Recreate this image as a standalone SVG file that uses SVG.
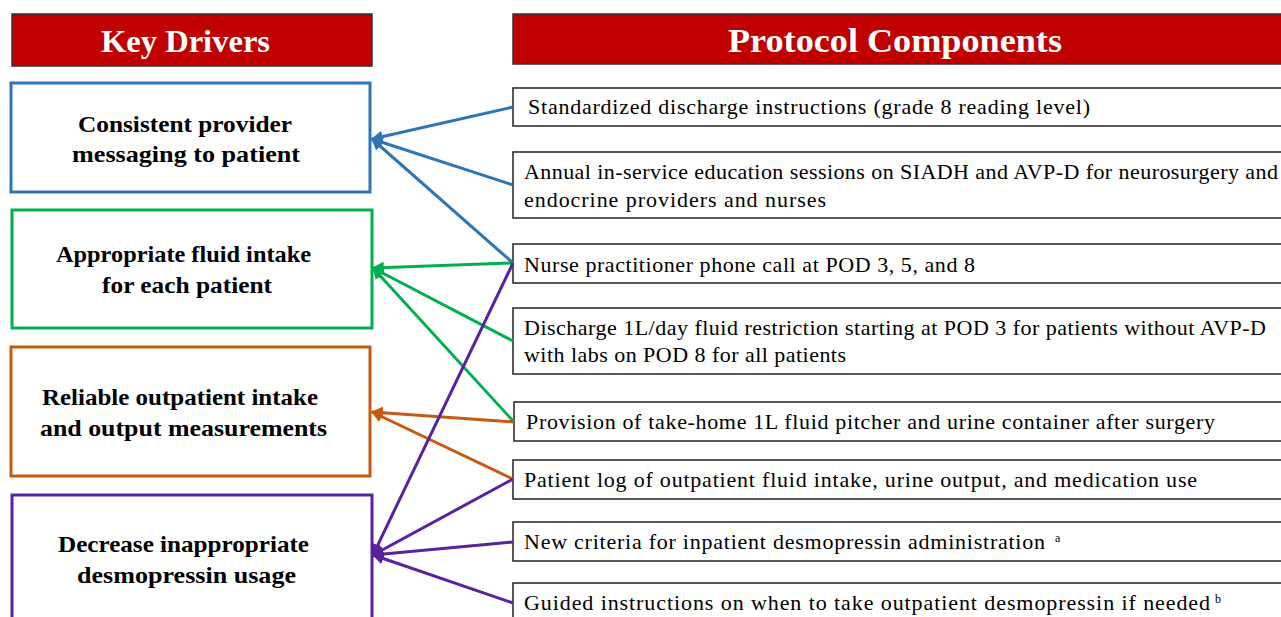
<svg xmlns="http://www.w3.org/2000/svg" width="1281" height="617" viewBox="0 0 1281 617">
<style>
.hdr{fill:#C00000;stroke:#333;stroke-width:1.5}
.htxt{font-family:"Liberation Serif",serif;font-weight:bold;fill:#fff}
.drv{fill:#fff;stroke-width:3}
.dtxt{font-family:"Liberation Serif",serif;font-weight:bold;font-size:24px;fill:#000}
.pc{fill:#fff;stroke:#222;stroke-width:1.5}
.ptxt{font-family:"Liberation Serif",serif;font-size:22px;fill:#000}
.sup{font-family:"Liberation Serif",serif;font-size:12px;fill:#000}
.c{fill:none;stroke-width:3}
</style>
<defs>
<marker id="mb" viewBox="0 0 10 10" refX="9" refY="5" markerWidth="12" markerHeight="12" markerUnits="userSpaceOnUse" orient="auto"><path d="M0,0 L10,5 L0,10 Z" fill="#2E75B6"/></marker>
<marker id="mg" viewBox="0 0 10 10" refX="9" refY="5" markerWidth="12" markerHeight="12" markerUnits="userSpaceOnUse" orient="auto"><path d="M0,0 L10,5 L0,10 Z" fill="#00B050"/></marker>
<marker id="mo" viewBox="0 0 10 10" refX="9" refY="5" markerWidth="12" markerHeight="12" markerUnits="userSpaceOnUse" orient="auto"><path d="M0,0 L10,5 L0,10 Z" fill="#C55A11"/></marker>
<marker id="mp" viewBox="0 0 10 10" refX="9" refY="5" markerWidth="12" markerHeight="12" markerUnits="userSpaceOnUse" orient="auto"><path d="M0,0 L10,5 L0,10 Z" fill="#5A229C"/></marker>
</defs>

<g id="header-key-drivers">
<rect class="hdr" x="12" y="14" width="360" height="52"/>
<text class="htxt" x="101" y="52" font-size="32" textLength="169" lengthAdjust="spacingAndGlyphs">Key Drivers</text>
</g>
<g id="header-protocol">
<rect class="hdr" x="513" y="14" width="780" height="50"/>
<text class="htxt" x="728" y="52" font-size="33" textLength="334" lengthAdjust="spacingAndGlyphs">Protocol Components</text>
</g>

<g id="driver-messaging">
<rect class="drv" x="11" y="83" width="359" height="109" stroke="#2E75B6"/>
<text class="dtxt" x="78" y="132" textLength="214" lengthAdjust="spacingAndGlyphs">Consistent provider</text>
<text class="dtxt" x="72" y="162" textLength="228" lengthAdjust="spacingAndGlyphs">messaging to patient</text>
</g>
<g id="driver-fluid">
<rect class="drv" x="12" y="210" width="360" height="118" stroke="#00B050"/>
<text class="dtxt" x="56" y="262" textLength="255" lengthAdjust="spacingAndGlyphs">Appropriate fluid intake</text>
<text class="dtxt" x="102" y="293" textLength="170" lengthAdjust="spacingAndGlyphs">for each patient</text>
</g>
<g id="driver-measurements">
<rect class="drv" x="11" y="347" width="359" height="129" stroke="#C55A11"/>
<text class="dtxt" x="42" y="405" textLength="276" lengthAdjust="spacingAndGlyphs">Reliable outpatient intake</text>
<text class="dtxt" x="40" y="436" textLength="287" lengthAdjust="spacingAndGlyphs">and output measurements</text>
</g>
<g id="driver-desmopressin">
<rect class="drv" x="12" y="495" width="360" height="140" stroke="#5A229C"/>
<text class="dtxt" x="58" y="552" textLength="251" lengthAdjust="spacingAndGlyphs">Decrease inappropriate</text>
<text class="dtxt" x="77" y="583" textLength="219" lengthAdjust="spacingAndGlyphs">desmopressin usage</text>
</g>

<g id="pc-instructions">
<rect class="pc" x="513" y="88" width="780" height="38"/>
<text class="ptxt" x="528" y="114" textLength="562" lengthAdjust="spacing">Standardized discharge instructions (grade 8 reading level)</text>
</g>
<g id="pc-education">
<rect class="pc" x="513" y="152" width="780" height="66"/>
<text class="ptxt" x="524" y="179" textLength="754" lengthAdjust="spacing">Annual in-service education sessions on SIADH and AVP-D for neurosurgery and</text>
<text class="ptxt" x="524" y="207" textLength="302" lengthAdjust="spacing">endocrine providers and nurses</text>
</g>
<g id="pc-phone">
<rect class="pc" x="513" y="244" width="780" height="39"/>
<text class="ptxt" x="524" y="272" textLength="451" lengthAdjust="spacing">Nurse practitioner phone call at POD 3, 5, and 8</text>
</g>
<g id="pc-restriction">
<rect class="pc" x="513" y="308" width="780" height="66"/>
<text class="ptxt" x="524" y="335" textLength="742" lengthAdjust="spacing">Discharge 1L/day fluid restriction starting at POD 3 for patients without AVP-D</text>
<text class="ptxt" x="524" y="362" textLength="322" lengthAdjust="spacing">with labs on POD 8 for all patients</text>
</g>
<g id="pc-pitcher">
<rect class="pc" x="514" y="402" width="780" height="39"/>
<text class="ptxt" x="526" y="429" textLength="689" lengthAdjust="spacing">Provision of take-home 1L fluid pitcher and urine container after surgery</text>
</g>
<g id="pc-log">
<rect class="pc" x="513" y="460" width="780" height="39"/>
<text class="ptxt" x="524" y="487" textLength="673" lengthAdjust="spacing">Patient log of outpatient fluid intake, urine output, and medication use</text>
</g>
<g id="pc-criteria">
<rect class="pc" x="513" y="522" width="780" height="39"/>
<text class="ptxt" x="524" y="549" textLength="521" lengthAdjust="spacing">New criteria for inpatient desmopressin administration</text>
<text class="sup" x="1055" y="542">a</text>
</g>
<g id="pc-guided">
<rect class="pc" x="513" y="583" width="780" height="50"/>
<text class="ptxt" x="524" y="610" textLength="686" lengthAdjust="spacing">Guided instructions on when to take outpatient desmopressin if needed</text>
<text class="sup" x="1215" y="603">b</text>
</g>

<g id="connectors">
<line class="c" stroke="#2E75B6" x1="513" y1="107" x2="372" y2="139" marker-end="url(#mb)"/>
<line class="c" stroke="#2E75B6" x1="513" y1="185" x2="372" y2="139" marker-end="url(#mb)"/>
<line class="c" stroke="#2E75B6" x1="513" y1="263" x2="372" y2="139" marker-end="url(#mb)"/>
<line class="c" stroke="#00B050" x1="513" y1="263" x2="373" y2="268" marker-end="url(#mg)"/>
<line class="c" stroke="#00B050" x1="513" y1="341" x2="373" y2="268" marker-end="url(#mg)"/>
<line class="c" stroke="#00B050" x1="514" y1="422" x2="373" y2="268" marker-end="url(#mg)"/>
<line class="c" stroke="#C55A11" x1="514" y1="422" x2="372" y2="412" marker-end="url(#mo)"/>
<line class="c" stroke="#C55A11" x1="513" y1="479" x2="372" y2="412" marker-end="url(#mo)"/>
<line class="c" stroke="#5A229C" x1="513" y1="263" x2="373" y2="555" marker-end="url(#mp)"/>
<line class="c" stroke="#5A229C" x1="513" y1="479" x2="373" y2="555" marker-end="url(#mp)"/>
<line class="c" stroke="#5A229C" x1="513" y1="542" x2="373" y2="555" marker-end="url(#mp)"/>
<line class="c" stroke="#5A229C" x1="513" y1="603" x2="373" y2="555" marker-end="url(#mp)"/>
</g>
</svg>
